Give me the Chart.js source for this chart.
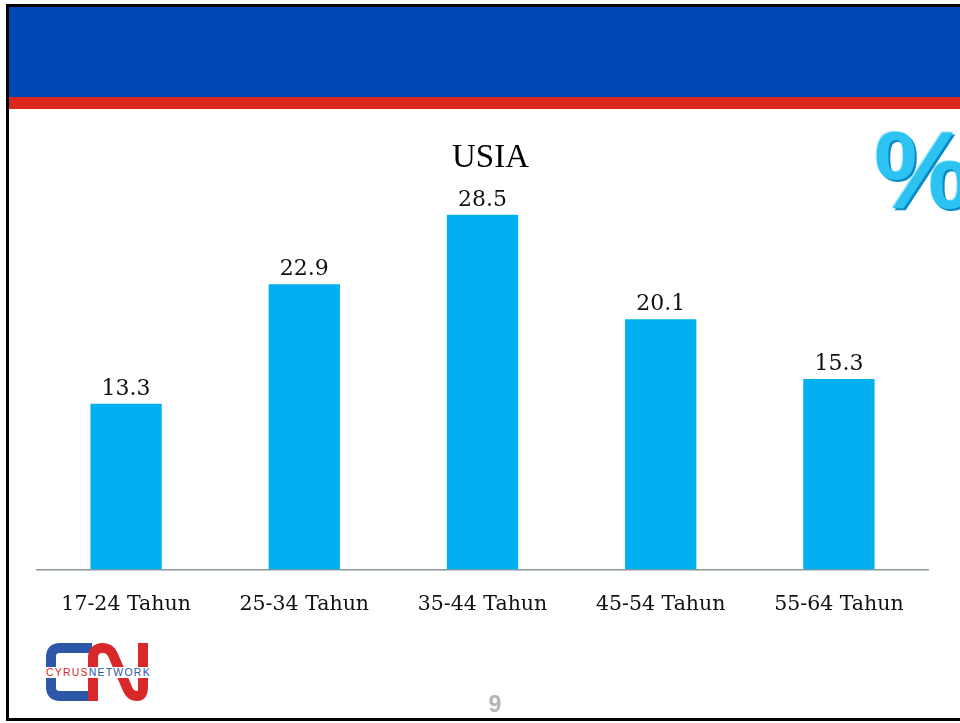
<!DOCTYPE html>
<html>
<head>
<meta charset="utf-8">
<script src="https://cdn.jsdelivr.net/npm/chart.js@4.4.1/dist/chart.umd.min.js"></script>
<style>
  html, body { margin: 0; padding: 0; background: #fff; }
  body { width: 960px; height: 723px; position: relative; overflow: hidden; }
  #frame { position: absolute; left: 6px; top: 4px; width: 960px; height: 711px;
           border: 3px solid #000; border-right: none; }
  #header { position: absolute; left: 9px; top: 7px; width: 960px; height: 90px; background: #0047b8; }
  #stripe { position: absolute; left: 9px; top: 97px; width: 960px; height: 12px; background: #dc271d; }
  #pct { position: absolute; left: 874px; top: 106px; font: bold 110px "Liberation Sans", Arial, sans-serif;
         color: #2cc2f1; text-shadow: 2px 2px 0 #0a8ac4, -1px -1px 0 #a5e8fb; }
  #pageNo { position: absolute; left: 480px; top: 691px; width: 30px; text-align: center;
            font: bold 23px "Liberation Sans", Arial, sans-serif; color: #b5b5b5; }
  #logo { position: absolute; left: 40px; top: 638px; }
  canvas { position: absolute; left: 0; top: 0; }
</style>
</head>
<body>
<div id="frame"></div>
<div id="header"></div>
<div id="stripe"></div>
<div id="pct">%</div>
<svg id="logo" width="120" height="70" viewBox="0 0 120 70">
  <path d="M52 10 H20 Q11 10 11 19 V49 Q11 58 20 58 H52" fill="none" stroke="#2d57a8" stroke-width="10"/>
  <path d="M53 63 V20 Q53 10 63 10 Q70 10 73 17 L88 52 Q91 58 97 58 Q103 58 103 50 V5" fill="none" stroke="#d8282a" stroke-width="10"/>
  <rect x="4" y="29" width="110" height="11" fill="#fff"/>
  <text x="6" y="38" font-family="Liberation Sans, Arial, sans-serif" font-size="10.5" letter-spacing="1.2"><tspan fill="#d8282a">CYRUS</tspan><tspan fill="#2d57a8">NETWORK</tspan></text>
</svg>
<div id="pageNo">9</div>
<canvas id="chart" width="960" height="723"></canvas>
<script>
let categories = ["17-24 Tahun", "25-34 Tahun", "35-44 Tahun", "45-54 Tahun", "55-64 Tahun"]
let values = [13.3, 22.9, 28.5, 20.1, 15.3]
let valueLabels = ["13.3", "22.9", "28.5", "20.1", "15.3"]
let chartTitle = "USIA"

// value labels above each bar + the title (sits a bit right of the plot centre)
let barLabels = {
    id: "barLabels",
    afterDatasetsDraw(chart){
        let ctx = chart.ctx
        let meta = chart.getDatasetMeta(0)
        let area = chart.chartArea
        ctx.save()
        ctx.textAlign = "center"
        ctx.textBaseline = "alphabetic"
        ctx.fillStyle = "#111"
        ctx.font = '22px "DejaVu Serif"'
        meta.data.forEach((bar, idx) => {
            ctx.fillText(valueLabels[idx], bar.x, bar.y - 9)
        })
        ctx.fillStyle = "#000"
        ctx.font = '33px "Liberation Serif"'
        ctx.fillText(chartTitle, (area.left + area.right) / 2 + 8, area.top - 29)
        ctx.restore()
    }
}

let usiaChart = new Chart(document.getElementById("chart"),
{
    type: "bar",
    data: {
        labels: categories,
        datasets: [
            {
                label: chartTitle,
                data: values,
                backgroundColor: "#00b0f0",
                categoryPercentage: 1,
                barPercentage: 0.4
            }
        ]
    },
    options: {
        responsive: false,
        animation: false,
        layout: {
            padding: { left: 37, right: 32, top: 196, bottom: 83 }
        },
        plugins: {
            legend: { display: false },
            tooltip: { enabled: false },
            title: { display: false }
        },
        scales: {
            x: {
                grid: { display: false, drawTicks: false },
                border: { display: true, color: "#8c9898", width: 1.5 },
                ticks: {
                    color: "#111",
                    font: { family: "DejaVu Serif", size: 20.5 },
                    padding: 23,
                    maxRotation: 0
                }
            },
            y: {
                display: false,
                min: 0,
                max: 30
            }
        }
    },
    plugins: [barLabels]
})
</script>
</body>
</html>
